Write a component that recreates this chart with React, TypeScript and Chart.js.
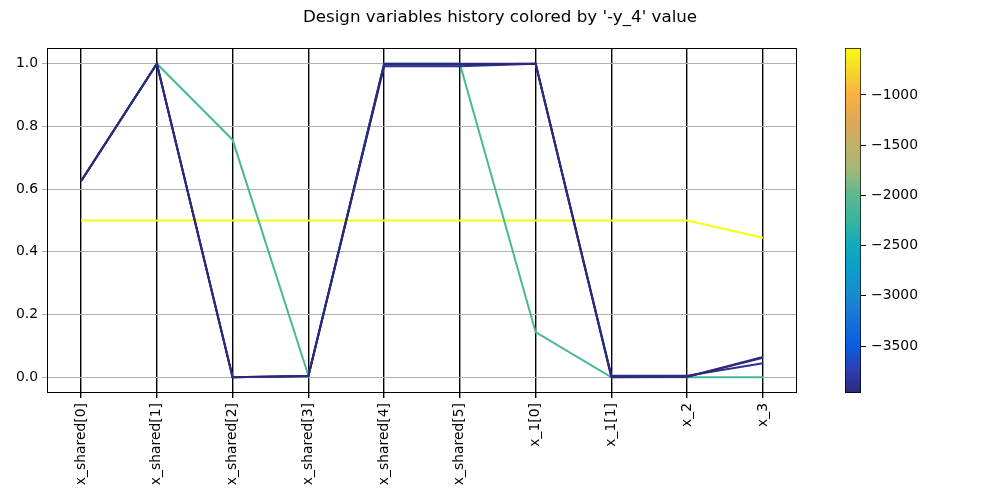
import { useEffect, useRef } from "react";
import { Chart, registerables } from "chart.js";

Chart.register(...registerables);

// ---------- data ----------
const TITLE = "Design variables history colored by '-y_4' value";
const VARIABLES = [
  "x_shared[0]",
  "x_shared[1]",
  "x_shared[2]",
  "x_shared[3]",
  "x_shared[4]",
  "x_shared[5]",
  "x_1[0]",
  "x_1[1]",
  "x_2",
  "x_3",
];
const Y_TICKS = [0, 0.2, 0.4, 0.6, 0.8, 1.0];
const CB_TICKS = [-1000, -1500, -2000, -2500, -3000, -3500];

// objective value ('-y_4') for each iteration
const OBJECTIVE = [-532, -2150, -3880, -3950, -3968];

// design variables per iteration
const ITER_1 = [0.5, 0.5, 0.5, 0.5, 0.5, 0.5, 0.5, 0.5, 0.5, 0.445];
const ITER_2 = [0.625, 1.0, 0.757, 0.006, 1.0, 1.0, 0.144, 0.0, 0.0, 0.0];
const ITER_3 = [0.625, 1.0, 0.0, 0.005, 0.992, 0.992, 1.0, 0.005, 0.005, 0.045];
const ITER_4 = [0.626, 1.0, 0.0, 0.004, 0.997, 0.997, 1.0, 0.002, 0.002, 0.062];
const ITER_5 = [0.626, 1.0, 0.0, 0.003, 1.0, 1.0, 1.0, 0.0, 0.002, 0.065];
const HISTORY = [ITER_1, ITER_2, ITER_3, ITER_4, ITER_5];

// ---------- colormap (parula-like) ----------
const CMAP: [number, number[]][] = [
  [0.0, [44, 42, 122]],
  [0.07, [46, 62, 180]],
  [0.136, [10, 94, 224]],
  [0.21, [21, 114, 216]],
  [0.282, [26, 138, 208]],
  [0.355, [11, 156, 203]],
  [0.427, [16, 170, 188]],
  [0.5, [58, 180, 160]],
  [0.573, [92, 184, 140]],
  [0.645, [160, 184, 120]],
  [0.718, [192, 176, 106]],
  [0.79, [224, 168, 85]],
  [0.864, [251, 176, 64]],
  [0.93, [246, 214, 42]],
  [1.0, [249, 251, 14]],
];

const CB_MIN = Math.min(...OBJECTIVE);
const CB_MAX = Math.max(...OBJECTIVE);

function cmap(f: number): string {
  const t = Math.max(0, Math.min(1, f));
  for (let i = 1; i < CMAP.length; i++) {
    const [f0, c0] = CMAP[i - 1];
    const [f1, c1] = CMAP[i];
    if (t <= f1) {
      const u = (t - f0) / (f1 - f0);
      const c = c0.map((v, k) => Math.round(v + (c1[k] - v) * u));
      return `rgb(${c[0]},${c[1]},${c[2]})`;
    }
  }
  const c = CMAP[CMAP.length - 1][1];
  return `rgb(${c[0]},${c[1]},${c[2]})`;
}
const colorFor = (v: number) => cmap((v - CB_MIN) / (CB_MAX - CB_MIN));

const FONT = "'DejaVu Sans', sans-serif";
const TICK_SIZE = 13.9;

export default function App() {
  const mainRef = useRef<HTMLCanvasElement>(null);
  const cbRef = useRef<HTMLCanvasElement>(null);

  useEffect(() => {
    document.body.style.margin = "0";
    const framePlugin = {
      id: "frame",
      afterDraw(chart: any) {
        const { ctx, chartArea: a } = chart;
        const l = Math.round(a.left) + 0.5;
        const t = Math.round(a.top) + 0.5;
        const r = Math.round(a.right) - 0.5;
        const b = Math.round(a.bottom) - 0.5;
        ctx.save();
        ctx.strokeStyle = "#000";
        ctx.lineWidth = 1;
        ctx.strokeRect(l, t, r - l, b - t);
        ctx.restore();
      },
    };
    const titlePlugin = {
      id: "suptitle",
      afterDraw(chart: any) {
        const ctx = chart.ctx;
        ctx.save();
        ctx.fillStyle = "#000";
        ctx.font = `16.7px ${FONT}`;
        ctx.textAlign = "center";
        ctx.textBaseline = "middle";
        ctx.fillText(TITLE, 500, 18);
        ctx.restore();
      },
    };

    const main = new Chart(mainRef.current!, {
      type: "line",
      data: {
        datasets: HISTORY.map((row, i) => ({
          data: row.map((y, j) => ({ x: j, y })),
          borderColor: colorFor(OBJECTIVE[i]),
          backgroundColor: colorFor(OBJECTIVE[i]),
          borderWidth: 2,
          pointRadius: 0,
          tension: 0,
          fill: false,
          order: HISTORY.length - i,
        })),
      },
      options: {
        animation: false,
        responsive: false,
        events: [],
        layout: { padding: { left: 0, right: 203, top: 48, bottom: 0 } },
        plugins: { legend: { display: false }, tooltip: { enabled: false }, title: { display: false } },
        scales: {
          x: {
            type: "linear",
            min: -0.45,
            max: 9.45,
            afterBuildTicks: (s: any) => {
              s.ticks = VARIABLES.map((_, i) => ({ value: i }));
            },
            afterFit: (s: any) => {
              s.height = 107;
            },
            ticks: {
              autoSkip: false,
              minRotation: 90,
              maxRotation: 90,
              padding: 5,
              color: "#000",
              font: { family: FONT, size: TICK_SIZE },
              callback: (v: any) => VARIABLES[Math.round(v)],
            },
            grid: { color: "#000", lineWidth: 1.4, tickLength: 5, drawTicks: true },
            border: { display: false },
          },
          y: {
            type: "linear",
            min: -0.05,
            max: 1.05,
            afterBuildTicks: (s: any) => {
              s.ticks = Y_TICKS.map((v) => ({ value: v }));
            },
            afterFit: (s: any) => {
              s.width = 47;
            },
            ticks: {
              padding: 4,
              color: "#000",
              font: { family: FONT, size: TICK_SIZE },
              callback: (v: any) => Number(v).toFixed(1),
            },
            grid: { color: "#b0b0b0", lineWidth: 1, tickLength: 5 },
            border: { display: false },
          },
        },
      },
      plugins: [framePlugin, titlePlugin],
    } as any);

    const cb = new Chart(cbRef.current!, {
      type: "bar",
      data: {
        labels: [""],
        datasets: [
          {
            data: [[CB_MIN, CB_MAX]],
            backgroundColor: (ctx: any) => {
              const a = ctx.chart.chartArea;
              if (!a) return colorFor(CB_MIN);
              const g = ctx.chart.ctx.createLinearGradient(0, a.bottom, 0, a.top);
              CMAP.forEach(([f, c]) => g.addColorStop(f, `rgb(${c[0]},${c[1]},${c[2]})`));
              return g;
            },
            borderColor: "#000",
            borderWidth: 1,
            borderSkipped: false,
            barPercentage: 1,
            categoryPercentage: 1,
          },
        ],
      },
      options: {
        animation: false,
        responsive: false,
        events: [],
        layout: { padding: { left: 845, right: 0, top: 48, bottom: 107 } },
        plugins: { legend: { display: false }, tooltip: { enabled: false } },
        scales: {
          x: { display: false },
          y: {
            position: "right",
            min: CB_MIN,
            max: CB_MAX,
            afterBuildTicks: (s: any) => {
              s.ticks = CB_TICKS.map((v) => ({ value: v }));
            },
            afterFit: (s: any) => {
              s.width = 139;
            },
            ticks: {
              padding: 5,
              color: "#000",
              font: { family: FONT, size: TICK_SIZE },
              callback: (v: any) => (v < 0 ? "\u2212" : "") + Math.abs(v),
            },
            grid: { drawOnChartArea: false, color: "#000", tickLength: 5 },
            border: { display: false },
          },
        },
      },
    } as any);

    return () => {
      main.destroy();
      cb.destroy();
    };
  }, []);

  return (
    <div style={{ position: "relative", width: 1000, height: 500, background: "#fff" }}>
      <canvas ref={mainRef} width={1000} height={500} style={{ position: "absolute", left: 0, top: 0 }} />
      <canvas ref={cbRef} width={1000} height={500} style={{ position: "absolute", left: 0, top: 0 }} />
    </div>
  );
}
